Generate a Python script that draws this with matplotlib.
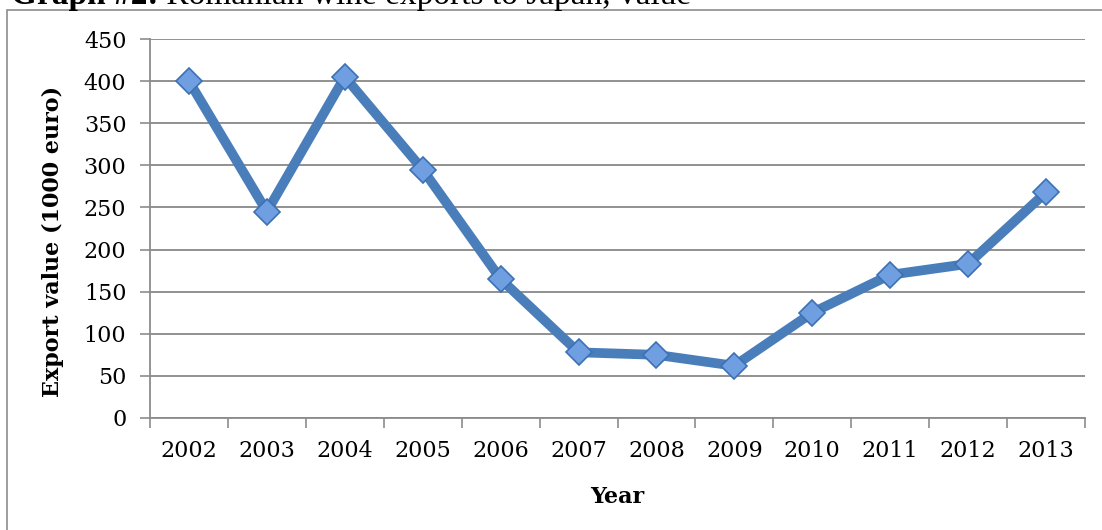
import numpy as np
import matplotlib.pyplot as plt
from matplotlib.patches import Rectangle

years = ['2002', '2003', '2004', '2005', '2006', '2007',
         '2008', '2009', '2010', '2011', '2012', '2013']
export_value = [400, 245, 405, 295, 165, 78, 75, 62, 125, 170, 183, 268]

plt.rcParams['font.family'] = ['DejaVu Serif']

fig = plt.figure(figsize=(11.02, 5.30), dpi=100)

# frame around the chart area, running off the right and bottom edges
fig.patches.append(Rectangle((7 / 1102, -0.1), 1.2, 1 - 9.5 / 530 + 0.1,
                             transform=fig.transFigure, fill=False,
                             edgecolor='#8c8c8c', linewidth=1.2))

# caption above the frame (only its lower part shows)
cap = fig.text(11 / 1102, 1 - 4 / 530, 'Graph #2:', fontsize=24,
               fontweight='bold', family='Liberation Serif',
               ha='left', va='baseline')
fig.add_artist(plt.Annotation(' Romanian wine exports to Japan, value',
                              xy=(1, 0), xycoords=cap, fontsize=24,
                              family='Liberation Serif',
                              ha='left', va='bottom'))

ax = fig.add_axes([150 / 1102, 112 / 530, 935 / 1102, 379 / 530])

x = np.arange(len(years))
ax.plot(x, export_value, color='#4a7ebb', linewidth=7, solid_joinstyle='round',
        zorder=3)
ax.plot(x, export_value, linestyle='none', marker='D', markersize=13,
        markerfacecolor='#6f9fe0', markeredgecolor='#3d71b3',
        markeredgewidth=1.2, zorder=4)

ax.set_xlim(-0.5, len(years) - 0.5)
ax.set_ylim(0, 450)
ax.set_yticks(np.arange(0, 451, 50))
ax.yaxis.grid(True, color='#888888', linewidth=1.3)
ax.set_axisbelow(True)

# category ticks sit on the boundaries between years
ax.set_xticks(np.arange(-0.5, len(years)), minor=False)
ax.set_xticklabels([])
ax.set_xticks(x, minor=True)
ax.set_xticklabels(years, minor=True, fontsize=16)
ax.tick_params(axis='x', which='major', direction='out', length=7,
               color='#8c8c8c', width=1.2)
ax.tick_params(axis='x', which='minor', length=0, pad=16)
ax.tick_params(axis='y', direction='out', length=7, color='#8c8c8c',
               width=1.2, labelsize=16, pad=10)

for side in ['top', 'right']:
    ax.spines[side].set_visible(False)
for side in ['left', 'bottom']:
    ax.spines[side].set_color('#8c8c8c')
    ax.spines[side].set_linewidth(1.3)

ax.set_xlabel('Year', fontsize=16, fontweight='bold')
ax.set_ylabel('Export value (1000 euro)', fontsize=16, fontweight='bold')
ax.xaxis.set_label_coords(0.5, -0.18)
ax.yaxis.set_label_coords(-0.092, 0.466)

fig.savefig('out.png', dpi=100)
